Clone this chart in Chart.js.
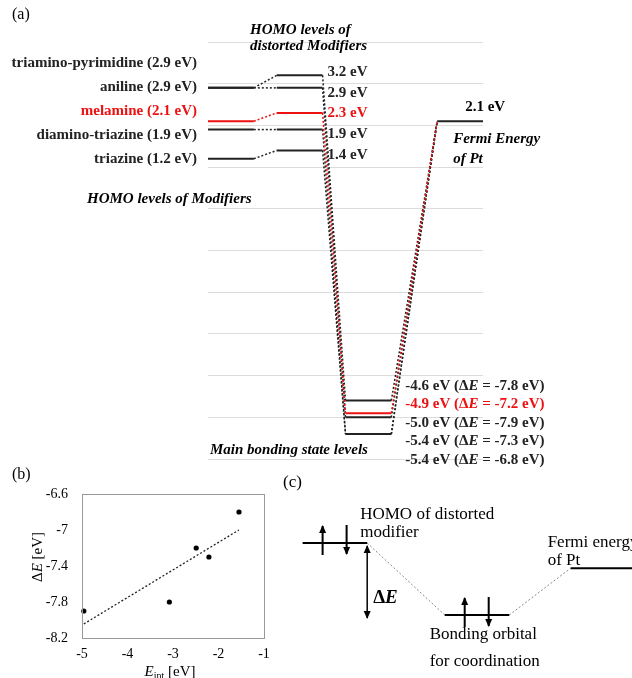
<!DOCTYPE html>
<html>
<head>
<meta charset="utf-8">
<script src="https://cdn.jsdelivr.net/npm/chart.js@4.4.0/dist/chart.umd.min.js"></script>
<style>
  body { margin: 0; background: #fff; }
  #wrap { position: relative; width: 632px; height: 678px; }
  canvas { position: absolute; }
</style>
</head>
<body>
<div id="wrap">
  <canvas id="chartA" width="632" height="480" style="left:0px;top:0px"></canvas>
  <canvas id="chartB" width="280" height="218" style="left:0px;top:460px"></canvas>
  <canvas id="chartC" width="352" height="218" style="left:280px;top:460px"></canvas>
</div>
<script>
// Data (energies in eV)
const modifiers = ['triamino-pyrimidine', 'aniline', 'melamine', 'diamino-triazine', 'triazine'];
const homoLevels = [2.9, 2.9, 2.1, 1.9, 1.2];
const distortedHomo = [3.2, 2.9, 2.3, 1.9, 1.4];
const bondingLevels = [-4.6, -5.0, -4.9, -5.4, -5.4];
const deltaE = [-7.8, -7.9, -7.2, -7.3, -6.8];
const eInt = [-3.08, -4.96, -2.49, -2.21, -1.55];
const fermiPt = 2.1;
const highlight = 'melamine';
const energyTicksA = [-6, -5, -4, -3, -2, -1, 0, 1, 2, 3, 4];
const xTicksB = [-5, -4, -3, -2, -1];
const yTicksB = [-8.2, -7.8, -7.4, -7, -6.6];

// schematic for panel (c)
const cLevelNames = ['HOMO', 'bonding', 'fermi'];
const cLevelEnergy = [0, -1, -0.35];
const cLevelSlot = [0, 2.2, 4.15];

const RED = '#ee1111';
const BLACK = '#222';
const SERIF = '"Liberation Serif", "Times New Roman", serif';
const colorFor = i => modifiers[i] === highlight ? RED : BLACK;

function drawRuns(ctx, runs, x, y) {
  runs.forEach(([font, text, dy]) => {
    ctx.font = font;
    ctx.fillText(text, x, y + (dy || 0));
    x += ctx.measureText(text).width;
  });
  return x;
}

const baseOpts = {
  responsive: false,
  maintainAspectRatio: false,
  devicePixelRatio: 1,
  animation: false,
  elements: { point: { radius: 0 }, line: { tension: 0 } },
  plugins: { legend: { display: false }, tooltip: { enabled: false } }
};

// ---------- panel (a) ----------
const slots = { homo: [0, 2], distorted: [3, 5], bonding: [6, 8], fermi: [10, 12] };
const datasetsA = [];
modifiers.forEach((m, i) => {
  const c = colorFor(i);
  const order = m === highlight ? 0 : 1;
  const solid = (xs, y) => ({ data: [{ x: xs[0], y }, { x: xs[1], y }], borderColor: c, borderWidth: 2, order, clip: false });
  const dotted = (x0, y0, x1, y1) => ({ data: [{ x: x0, y: y0 }, { x: x1, y: y1 }], borderColor: c, borderWidth: 1.5, borderDash: [2, 2], order, clip: false });
  datasetsA.push(
    solid(slots.homo, homoLevels[i]),
    dotted(slots.homo[1], homoLevels[i], slots.distorted[0], distortedHomo[i]),
    solid(slots.distorted, distortedHomo[i]),
    dotted(slots.distorted[1], distortedHomo[i], slots.bonding[0], bondingLevels[i]),
    solid(slots.bonding, bondingLevels[i]),
    dotted(slots.bonding[1], bondingLevels[i], slots.fermi[0], fermiPt)
  );
});
datasetsA.push({ data: [{ x: slots.fermi[0], y: fermiPt }, { x: slots.fermi[1], y: fermiPt }], borderColor: BLACK, borderWidth: 2, order: 1, clip: false });

const textA = {
  id: 'textA',
  afterDraw(chart) {
    const { ctx, scales: { x, y } } = chart;
    const bold = 'bold 15px ' + SERIF;
    const boldIt = 'italic bold 15px ' + SERIF;
    ctx.save();
    ctx.textBaseline = 'middle';
    ctx.fillStyle = '#000';
    ctx.font = '16px ' + SERIF;
    ctx.fillText('(a)', 12, 15);

    // modifier names
    ctx.font = bold;
    ctx.textAlign = 'right';
    modifiers.forEach((m, i) => {
      ctx.fillStyle = colorFor(i);
      ctx.fillText(`${m} (${homoLevels[i].toFixed(1)} eV)`, 197, 63 + i * 24);
    });

    // distorted HOMO values
    ctx.textAlign = 'left';
    const dx = x.getPixelForValue(slots.distorted[1]) + 5;
    modifiers.forEach((m, i) => {
      ctx.fillStyle = colorFor(i);
      ctx.font = bold;
      ctx.fillText(`${distortedHomo[i].toFixed(1)} eV`, dx, 72 + i * 20.8);
    });

    // bonding state values, sorted from top to bottom
    const idx = modifiers.map((_, i) => i).sort((a, b) => bondingLevels[b] - bondingLevels[a]);
    const bx = x.getPixelForValue(slots.bonding[1]) + 14;
    idx.forEach((i, k) => {
      ctx.fillStyle = colorFor(i);
      drawRuns(ctx, [
        [bold, `${bondingLevels[i].toFixed(1)} eV (\u0394`],
        [boldIt, 'E'],
        [bold, ` = ${deltaE[i].toFixed(1)} eV)`]
      ], bx, 386 + k * 18.5);
    });

    // Fermi level
    ctx.fillStyle = '#000';
    ctx.font = bold;
    const fx = x.getPixelForValue(slots.fermi[0]);
    const fy = y.getPixelForValue(fermiPt);
    ctx.fillText(`${fermiPt.toFixed(1)} eV`, fx + 28, fy - 14);
    ctx.font = boldIt;
    ctx.fillText('Fermi Energy', fx + 16, fy + 18);
    ctx.fillText('of Pt', fx + 16, fy + 38);

    ctx.fillText('HOMO levels of', 250, 30);
    ctx.fillText('distorted Modifiers', 250, 46);
    ctx.fillText('HOMO levels of Modifiers', 87, 199);
    ctx.fillText('Main bonding state levels', 210, 450);
    ctx.restore();
  }
};

new Chart(document.getElementById('chartA'), {
  type: 'line',
  data: { datasets: datasetsA },
  options: Object.assign({}, baseOpts, {
    layout: { padding: { left: 208, right: 149, top: 42, bottom: 21 } },
    scales: {
      x: { type: 'linear', display: false, min: slots.homo[0], max: slots.fermi[1] },
      y: {
        type: 'linear', min: energyTicksA[0], max: energyTicksA[energyTicksA.length - 1],
        afterBuildTicks: s => { s.ticks = energyTicksA.map(v => ({ value: v })); },
        afterFit: s => { s.width = 0; },
        ticks: { display: false },
        grid: { color: '#dcdcdc', lineWidth: 1, drawTicks: false },
        border: { display: false }
      }
    }
  }),
  plugins: [textA]
});

// ---------- panel (b) ----------
const n = eInt.length;
const mx = eInt.reduce((a, b) => a + b, 0) / n;
const my = deltaE.reduce((a, b) => a + b, 0) / n;
let sxy = 0, sxx = 0;
eInt.forEach((v, i) => { sxy += (v - mx) * (deltaE[i] - my); sxx += (v - mx) * (v - mx); });
const slope = sxy / sxx;
const xLo = Math.min(...eInt), xHi = Math.max(...eInt);
const trend = [xLo, xHi].map(v => ({ x: v, y: my + slope * (v - mx) }));

const textB = {
  id: 'textB',
  afterDraw(chart) {
    const { ctx, chartArea: a } = chart;
    ctx.save();
    ctx.strokeStyle = '#999';
    ctx.lineWidth = 1;
    ctx.strokeRect(a.left + 0.5, a.top + 0.5, a.right - a.left, a.bottom - a.top);
    ctx.fillStyle = '#000';
    ctx.textBaseline = 'middle';
    ctx.font = '16px ' + SERIF;
    ctx.fillText('(b)', 12, 15);
    // y title
    ctx.save();
    ctx.translate(38, 97);
    ctx.rotate(-Math.PI / 2);
    const reg = '15px ' + SERIF, it = 'italic 15px ' + SERIF;
    ctx.font = reg;
    const wY = ['\u0394', 'E', ' [eV]'].reduce((w, t, k) => { ctx.font = k === 1 ? it : reg; return w + ctx.measureText(t).width; }, 0);
    drawRuns(ctx, [[reg, '\u0394'], [it, 'E'], [reg, ' [eV]']], -wY / 2, 0);
    ctx.restore();
    // x title
    const small = '10px ' + SERIF;
    let w = 0;
    ctx.font = it; w += ctx.measureText('E').width;
    ctx.font = small; w += ctx.measureText('int').width;
    ctx.font = reg; w += ctx.measureText(' [eV]').width;
    drawRuns(ctx, [[it, 'E'], [small, 'int', 4], [reg, ' [eV]']], (a.left + a.right) / 2 - w / 2 - 3, 212);
    ctx.restore();
  }
};

const tickFont = { family: 'Liberation Serif', size: 14 };
new Chart(document.getElementById('chartB'), {
  type: 'scatter',
  data: {
    datasets: [
      { data: eInt.map((v, i) => ({ x: v, y: deltaE[i] })), backgroundColor: '#000', borderColor: '#000', pointRadius: 2.6, borderWidth: 0, clip: false },
      { data: trend, showLine: true, borderColor: '#222', borderWidth: 1.3, borderDash: [2, 2], pointRadius: 0 }
    ]
  },
  options: Object.assign({}, baseOpts, {
    layout: { padding: { left: 0, right: 16, top: 34, bottom: 0 } },
    scales: {
      x: {
        type: 'linear', min: xTicksB[0], max: xTicksB[xTicksB.length - 1],
        afterBuildTicks: s => { s.ticks = xTicksB.map(v => ({ value: v })); },
        afterFit: s => { s.height = 40; },
        ticks: { font: tickFont, color: '#000', padding: 8, callback: v => String(v) },
        grid: { display: false, drawTicks: false },
        border: { display: false }
      },
      y: {
        type: 'linear', min: yTicksB[0], max: yTicksB[yTicksB.length - 1],
        afterBuildTicks: s => { s.ticks = yTicksB.map(v => ({ value: v })); },
        afterFit: s => { s.width = 82; },
        ticks: { font: tickFont, color: '#000', padding: 14, callback: v => String(v) },
        grid: { display: false, drawTicks: false },
        border: { display: false }
      }
    }
  }),
  plugins: [textB]
});

// ---------- panel (c) ----------
const datasetsC = [];
cLevelNames.forEach((nm, i) => {
  datasetsC.push({ data: [{ x: cLevelSlot[i], y: cLevelEnergy[i] }, { x: cLevelSlot[i] + 1, y: cLevelEnergy[i] }], borderColor: '#000', borderWidth: 2, clip: false });
});
for (let i = 0; i < cLevelNames.length - 1; i++) {
  datasetsC.push({ data: [{ x: cLevelSlot[i] + 1, y: cLevelEnergy[i] }, { x: cLevelSlot[i + 1], y: cLevelEnergy[i + 1] }], borderColor: '#888', borderWidth: 1, borderDash: [2, 2] });
}

function arrow(ctx, x, y0, y1, head, both) {
  ctx.beginPath();
  ctx.moveTo(x, y0);
  ctx.lineTo(x, y1);
  ctx.stroke();
  const tips = both ? [[y1, y0], [y0, y1]] : [[y1, y0]];
  tips.forEach(([tip, from]) => {
    const d = Math.sign(tip - from);
    ctx.beginPath();
    ctx.moveTo(x, tip + d);
    ctx.lineTo(x - head / 2, tip - d * head);
    ctx.lineTo(x + head / 2, tip - d * head);
    ctx.closePath();
    ctx.fill();
  });
}

const textC = {
  id: 'textC',
  afterDraw(chart) {
    const { ctx, scales: { x, y } } = chart;
    const px = i => [x.getPixelForValue(cLevelSlot[i]), x.getPixelForValue(cLevelSlot[i] + 1), y.getPixelForValue(cLevelEnergy[i])];
    const [h0, h1, hy] = px(0);
    const [b0, b1, by] = px(1);
    const [f0, , fy] = px(2);
    ctx.save();
    ctx.fillStyle = '#000';
    ctx.strokeStyle = '#000';
    ctx.lineWidth = 2;
    // electron pairs
    [[h0, hy], [b0, by]].forEach(([lx, ly]) => {
      arrow(ctx, lx + 20, ly + 12, ly - 17, 7);
      arrow(ctx, lx + 44, ly - 18, ly + 11, 7);
    });
    // delta E
    ctx.lineWidth = 1.5;
    arrow(ctx, h1, hy + 3, by + 3, 7, true);

    ctx.textBaseline = 'middle';
    const reg = '17px ' + SERIF;
    ctx.font = reg;
    ctx.fillText('(c)', 3, 23);
    ctx.fillText('HOMO of distorted', h1 - 7, hy - 28);
    ctx.fillText('modifier', h1 - 7, hy - 10);
    ctx.fillText('Fermi energy', f0 - 23, fy - 26);
    ctx.fillText('of Pt', f0 - 23, fy - 8);
    ctx.fillText('Bonding orbital', b0 - 15, by + 20);
    ctx.fillText('for coordination', b0 - 15, by + 47);
    drawRuns(ctx, [['bold 19px ' + SERIF, '\u0394'], ['italic bold 19px ' + SERIF, 'E']], h1 + 6, hy + 55);
    ctx.restore();
  }
};

new Chart(document.getElementById('chartC'), {
  type: 'line',
  data: { datasets: datasetsC },
  options: Object.assign({}, baseOpts, {
    layout: { padding: 0 },
    scales: {
      x: { type: 'linear', display: false, min: -0.35, max: 5.1 },
      y: { type: 'linear', display: false, min: -1.875, max: 1.153 }
    }
  }),
  plugins: [textC]
});
</script>
</body>
</html>
